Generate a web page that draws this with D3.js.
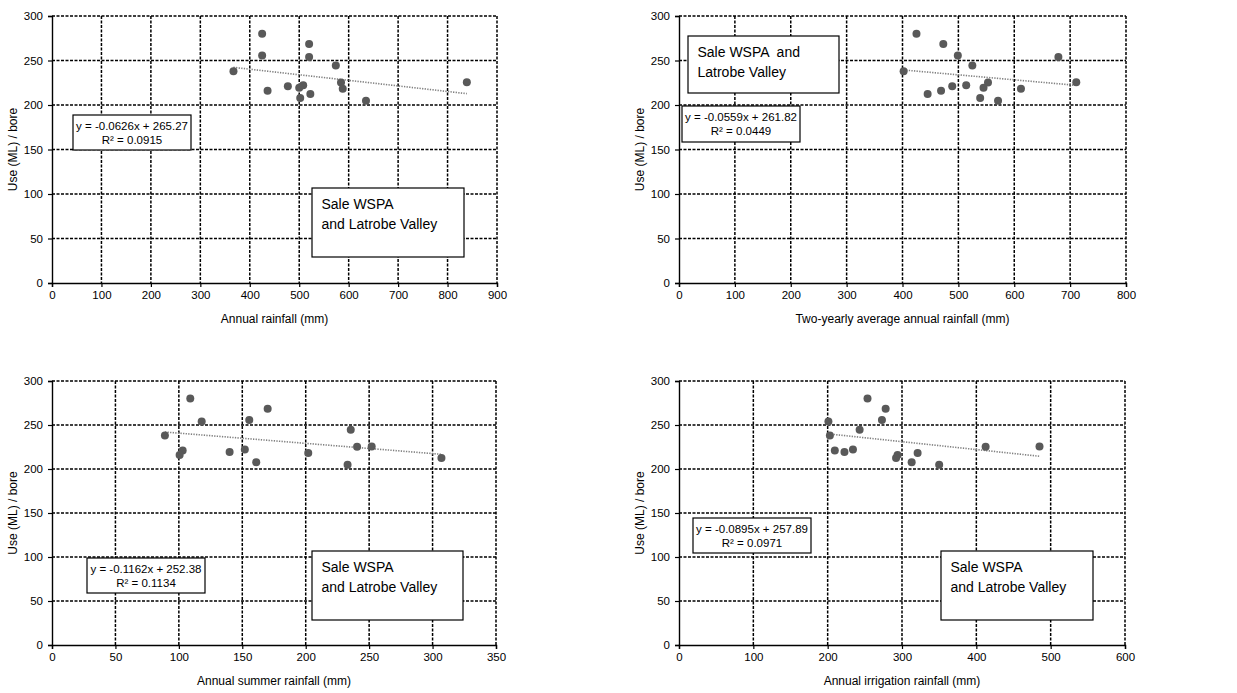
<!DOCTYPE html>
<html>
<head>
<meta charset="utf-8">
<script src="https://cdn.jsdelivr.net/npm/d3@7"></script>
<style>
  html, body { margin: 0; padding: 0; background: #fff; }
  svg { display: block; font-family: "Liberation Sans", Arial, sans-serif; }
</style>
</head>
<body>
<svg id="chart" width="1237" height="693"></svg>
<script>
// ---------------- DATA ----------------
// Use (ML) per bore for each of the 16 years (same for every panel)
const useValues = [280, 268.5, 255.7, 254, 244.5, 238, 225.7, 225.2, 222.2, 221, 219.4, 218.3, 216, 212.5, 207.8, 204.7];

// X values per panel, in the same order as useValues
const annualRainfall      = [425, 520, 425, 520, 574, 367, 839, 584.5, 508, 477, 500, 588, 436, 522.5, 502, 635];
const twoYearlyRainfall   = [425, 473, 499, 679, 525, 402, 711, 553, 514, 489, 545, 612, 469, 445, 539, 571];
const summerRainfall      = [109, 170, 155.5, 118, 235.5, 89, 252, 240.5, 152, 103, 140, 202, 100.6, 307, 161, 233];
const irrigationRainfall  = [253.6, 278, 273, 201, 243, 203, 485, 412.5, 234, 209.6, 222.6, 321, 294, 292, 313, 350];

// trend line parameters (from the equations shown)
const slopes     = [-0.0626, -0.0559, -0.1162, -0.0895];
const intercepts = [265.27, 261.82, 252.38, 257.89];
const eqLabels   = ["y = -0.0626x + 265.27", "y = -0.0559x + 261.82", "y = -0.1162x + 252.38", "y = -0.0895x + 257.89"];
const r2Labels   = ["R² = 0.0915", "R² = 0.0449", "R² = 0.1134", "R² = 0.0971"];

const xTitles = ["Annual rainfall (mm)", "Two-yearly average annual rainfall (mm)", "Annual summer rainfall (mm)", "Annual irrigation rainfall (mm)"];
const yTitle = "Use (ML) / bore";
const xMaxes = [900, 800, 350, 600];
const xSteps = [100, 100, 50, 100];
const yTicks = [0, 50, 100, 150, 200, 250, 300];
const legendLines = [["Sale WSPA", "and Latrobe Valley"], ["Sale WSPA  and", "Latrobe Valley"], ["Sale WSPA", "and Latrobe Valley"], ["Sale WSPA", "and Latrobe Valley"]];
const xSeries = [annualRainfall, twoYearlyRainfall, summerRainfall, irrigationRainfall];

// ---------------- LAYOUT ----------------
const layout = [
  { left: 52,  right: 497,  top: 16,  bottom: 283,
    eq: { x: 73,  y: 115, w: 118, h: 35 }, lg: { x: 312, y: 188, w: 152, h: 69 } },
  { left: 679, right: 1126, top: 16,  bottom: 283,
    eq: { x: 682, y: 106, w: 118, h: 36 }, lg: { x: 688, y: 36,  w: 151, h: 57 } },
  { left: 52,  right: 496,  top: 381, bottom: 645,
    eq: { x: 87,  y: 558, w: 118, h: 35 }, lg: { x: 312, y: 551, w: 151, h: 69 } },
  { left: 679, right: 1125, top: 381, bottom: 645,
    eq: { x: 693, y: 518, w: 118, h: 35 }, lg: { x: 941, y: 551, w: 152, h: 69 } }
];

const svg = d3.select("#chart");

layout.forEach((L, i) => {
  const g = svg.append("g");
  const xTicks = d3.range(0, xMaxes[i] + 0.001, xSteps[i]);
  const x = d3.scaleLinear().domain([0, xMaxes[i]]).range([L.left, L.right]);
  const y = d3.scaleLinear().domain([0, 300]).range([L.bottom, L.top]);

  // grid lines (dashed)
  g.append("g").selectAll("line.v").data(xTicks.filter(d => d > 0)).join("line")
    .attr("x1", d => x(d)).attr("x2", d => x(d))
    .attr("y1", L.top).attr("y2", L.bottom)
    .attr("stroke", "#000").attr("stroke-width", 1.5).attr("stroke-dasharray", "3,1.5");
  g.append("g").selectAll("line.h").data(yTicks.filter(d => d > 0)).join("line")
    .attr("x1", L.left).attr("x2", L.right)
    .attr("y1", d => y(d)).attr("y2", d => y(d))
    .attr("stroke", "#000").attr("stroke-width", 1.5).attr("stroke-dasharray", "3,1.5");

  // axes
  const xAxis = g.append("g").attr("transform", `translate(0,${L.bottom})`)
    .call(d3.axisBottom(x).tickValues(xTicks).tickSize(4).tickPadding(4).tickFormat(d3.format("d")));
  const yAxis = g.append("g").attr("transform", `translate(${L.left},0)`)
    .call(d3.axisLeft(y).tickValues(yTicks).tickSize(4).tickPadding(5).tickFormat(d3.format("d")));
  [xAxis, yAxis].forEach(a => {
    a.select(".domain").attr("stroke", "#000").attr("stroke-width", 1.4);
    a.selectAll(".tick line").attr("stroke", "#000").attr("stroke-width", 1.2);
    a.selectAll("text").attr("font-size", 11.5).attr("fill", "#000")
      .attr("font-family", "'Liberation Sans', Arial, sans-serif");
  });

  // axis titles
  g.append("text").attr("x", (L.left + L.right) / 2).attr("y", L.bottom + 40)
    .attr("text-anchor", "middle").attr("font-size", 12).text(xTitles[i]);
  g.append("text")
    .attr("transform", `translate(${L.left - 35},${(L.top + L.bottom) / 2}) rotate(-90)`)
    .attr("text-anchor", "middle").attr("font-size", 12).text(yTitle);

  // trend line
  const xs = xSeries[i];
  const [xmin, xmax] = d3.extent(xs);
  g.append("line")
    .attr("x1", x(xmin)).attr("y1", y(slopes[i] * xmin + intercepts[i]))
    .attr("x2", x(xmax)).attr("y2", y(slopes[i] * xmax + intercepts[i]))
    .attr("stroke", "#808080").attr("stroke-width", 1.6).attr("stroke-dasharray", "1.3,1.3");

  // points
  g.append("g").selectAll("circle").data(xs.map((v, k) => [v, useValues[k]])).join("circle")
    .attr("cx", d => x(d[0])).attr("cy", d => y(d[1])).attr("r", 4)
    .attr("fill", "#595959");

  // equation box
  const E = L.eq;
  g.append("rect").attr("x", E.x).attr("y", E.y).attr("width", E.w).attr("height", E.h)
    .attr("fill", "#fff").attr("stroke", "#000").attr("stroke-width", 1.2);
  g.append("text").attr("x", E.x + E.w / 2).attr("y", E.y + 15)
    .attr("text-anchor", "middle").attr("font-size", 11.5).text(eqLabels[i]);
  g.append("text").attr("x", E.x + E.w / 2).attr("y", E.y + 29)
    .attr("text-anchor", "middle").attr("font-size", 11.5).text(r2Labels[i]);

  // legend/label box
  const G = L.lg;
  g.append("rect").attr("x", G.x).attr("y", G.y).attr("width", G.w).attr("height", G.h)
    .attr("fill", "#fff").attr("stroke", "#000").attr("stroke-width", 1.2);
  legendLines[i].forEach((t, k) => {
    g.append("text").attr("x", G.x + 9.5).attr("y", G.y + 21 + k * 19.5)
      .attr("font-size", 14).attr("xml:space", "preserve").style("white-space", "pre").text(t);
  });
});
</script>
</body>
</html>
